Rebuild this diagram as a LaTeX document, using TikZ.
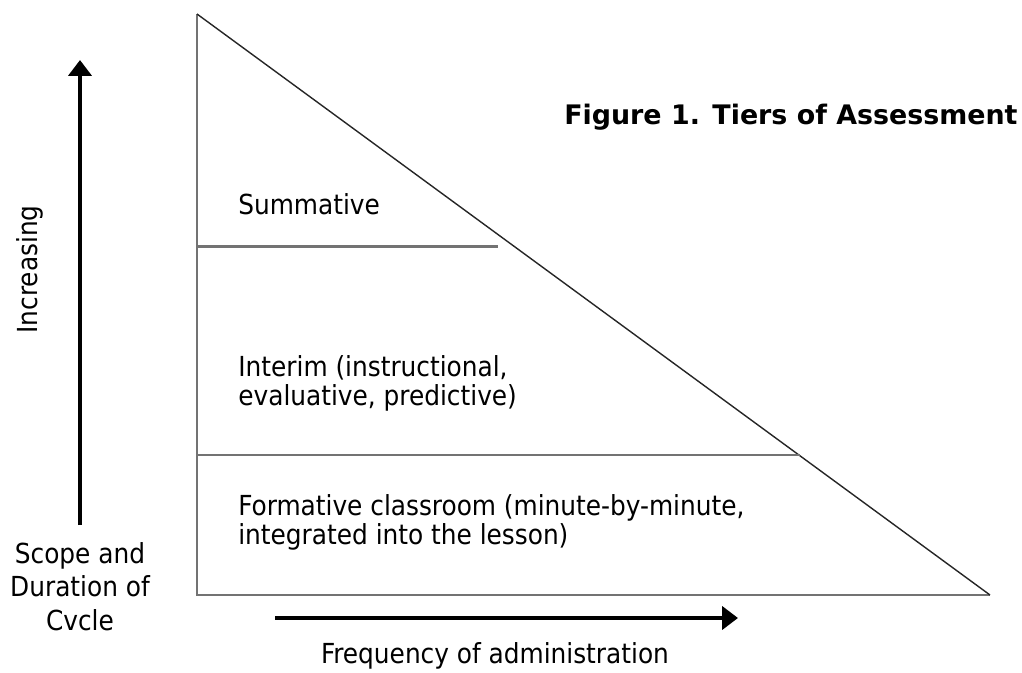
\documentclass[tikz,border=0pt]{standalone}
\usepackage{fontspec}
\setmainfont{DejaVu Sans Condensed}
\newfontfamily\titlefont{DejaVu Sans}
\usetikzlibrary{arrows.meta}

\begin{document}
\begin{tikzpicture}[x=0.02cm, y=-0.02cm,
	edge/.style={line width=1.3pt, color=black!55},
	slope/.style={line width=0.8pt, color=black!85},
	bigarrow/.style={-{Triangle[width=13pt, length=9pt]}, line width=2.6pt, color=black},
	words/.style={inner sep=0pt, font=\fontsize{15.7}{16}\selectfont, align=left}]
	\useasboundingbox (0,0) rectangle (1022,673);

	\coordinate (apex) at (197,14);
	\coordinate (corner) at (197,595);
	\coordinate (far) at (990,595);
	\coordinate (sumLeft) at (197,246.5);
	\coordinate (sumRight) at (498,246.5);
	\coordinate (intLeft) at (197,455);
	\coordinate (intRight) at (800,455);

	\draw [edge] (apex) -- (corner) -- (far);
	\draw [slope] (apex) -- (far);
	\draw [edge] (sumLeft) -- (sumRight);
	\draw [edge] (intLeft) -- (intRight);

	\node[words, anchor=base west](summative) at (238,214){Summative};
	\node[words, anchor=base west](interim) at (238,405){Interim (instructional,\\evaluative, predictive)};
	\node[words, anchor=base west](formative) at (238,544){Formative classroom (minute-by-minute,\\integrated into the lesson)};

	\coordinate (upBase) at (80,525);
	\coordinate (upTip) at (80,60);
	\coordinate (rightBase) at (275,618);
	\coordinate (rightTip) at (738,618);
	\draw [bigarrow] (upBase) -- (upTip);
	\draw [bigarrow] (rightBase) -- (rightTip);

	\node[words, rotate=90, anchor=base](increasing) at (37,269.5){Increasing};
	\node[words, align=center, anchor=base, font=\fontsize{15.7}{18.8}\selectfont](scope) at (80,630){Scope and\\Duration of\\Cvcle};
	\node[words, anchor=base](frequency) at (495,663){Frequency of administration};

	\node[inner sep=0pt, anchor=base east, font=\titlefont\bfseries\fontsize{15.3}{18}\selectfont](title) at (1018,124){Figure 1. Tiers of Assessment};
\end{tikzpicture}
\end{document}
